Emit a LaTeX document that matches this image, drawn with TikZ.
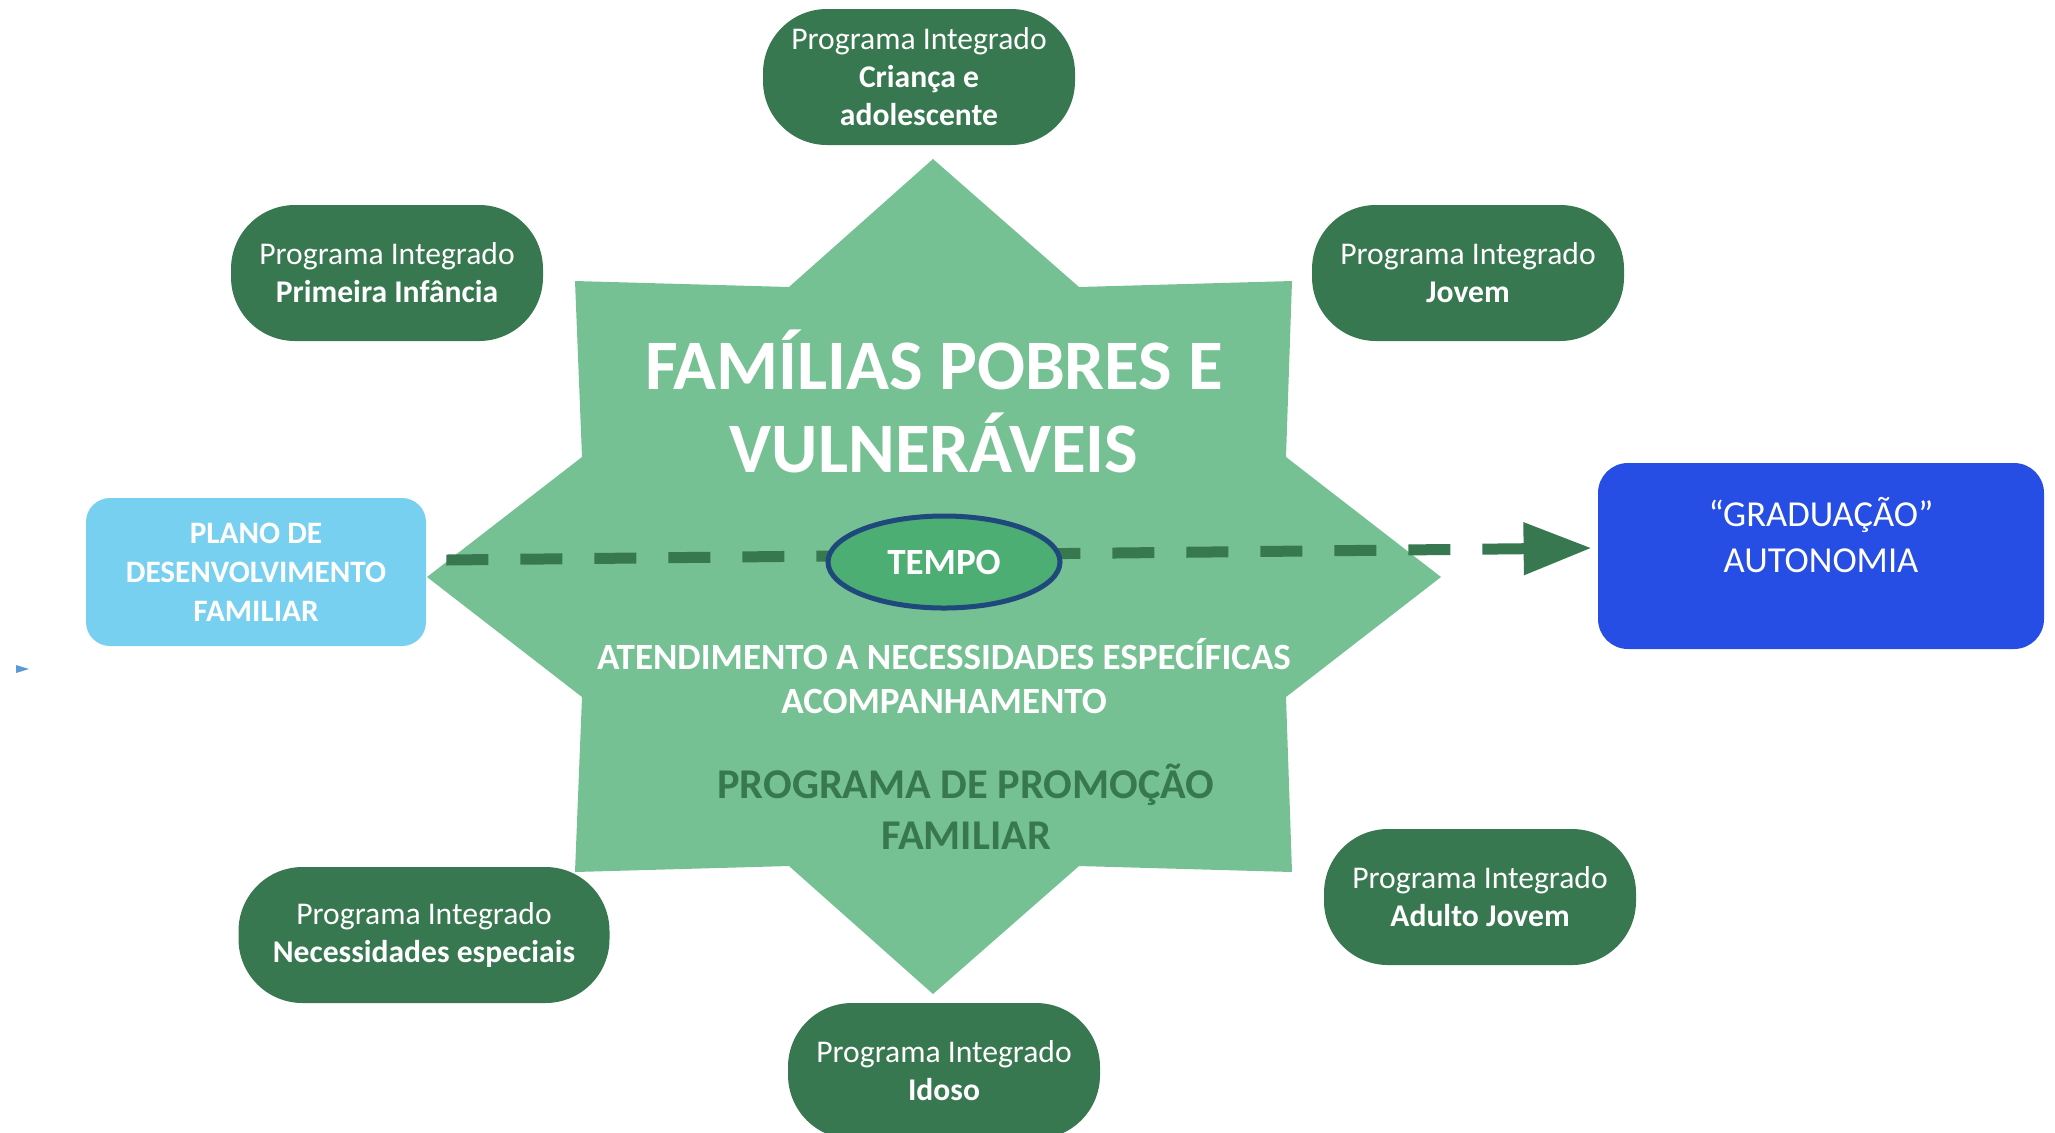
\documentclass[tikz,border=0pt]{standalone}
\usepackage{fontspec}
\setmainfont{Carlito}
\usetikzlibrary{arrows.meta,shapes,positioning}

\definecolor{stargreen}{RGB}{118,193,148}
\definecolor{pillgreen}{RGB}{56,120,80}
\definecolor{planoblue}{RGB}{120,208,240}
\definecolor{gradblue}{RGB}{38,77,228}
\definecolor{tempogreen}{RGB}{76,174,114}
\definecolor{temponavy}{RGB}{31,73,125}
\definecolor{tipblue}{RGB}{91,155,213}

\tikzset{
	pill/.style={rectangle,
		fill=pillgreen,
		rounded corners=32pt,
		minimum width=156pt,
		minimum height=68pt,
		inner sep=0pt,
		align=center,
		text=white,
		font=\fontsize{15.8}{19}\selectfont,
		},
	plano/.style={rectangle,
		fill=planoblue,
		rounded corners=12pt,
		minimum width=170pt,
		minimum height=74pt,
		inner sep=0pt,
		align=center,
		text=white,
		font=\fontsize{15.6}{19.5}\selectfont\bfseries,
		},
	grad/.style={rectangle,
		fill=gradblue,
		rounded corners=15pt,
		minimum width=223pt,
		minimum height=93pt,
		inner sep=0pt,
		text depth=21pt,
		align=center,
		text=white,
		font=\fontsize{18.3}{23}\selectfont,
		},
	tempo/.style={ellipse,
		draw=temponavy,
		line width=2.5pt,
		fill=tempogreen,
		minimum width=116pt,
		minimum height=46pt,
		inner sep=0pt,
		text=white,
		font=\fontsize{18.5}{22}\selectfont\bfseries,
		},
	startext/.style={align=center,
		text=white,
		inner sep=0pt,
		font=\bfseries,
		},
	flow/.style={draw=pillgreen,
		line width=5.5pt,
		dash pattern=on 21pt off 16pt,
		-{Triangle[length=34pt,width=25pt]},
		},
}

\begin{document}
\begin{tikzpicture}[x=0.5pt,y=-0.5pt]
   \useasboundingbox (0,0) rectangle (2055,1132);

   \fill[stargreen] (933,159) -- (1079,287) -- (1292,281) -- (1286,457)
   	-- (1441,577) -- (1286,697) -- (1292,872) -- (1079,866) -- (933,994)
   	-- (789,866) -- (575,872) -- (582,697) -- (427,577) -- (582,457)
   	-- (575,281) -- (789,287) -- cycle;

   \fill[tipblue] (16,665) -- (29,669) -- (16,673) -- cycle;

   \node[pill] (crianca) at (919,77) {Programa Integrado\\\textbf{Criança e}\\\textbf{adolescente}};
   \node[pill] (primeira) at (387,273) {Programa Integrado\\\textbf{Primeira Infância}};
   \node[pill] (jovem) at (1468,273) {Programa Integrado\\\textbf{Jovem}};
   \node[pill, minimum width=185.5pt] (especiais) at (424,935) {Programa Integrado\\\textbf{Necessidades especiais}};
   \node[pill] (adulto) at (1480,897) {Programa Integrado\\\textbf{Adulto Jovem}};
   \node[pill] (idoso) at (944,1071) {Programa Integrado\\\textbf{Idoso}};

   \node[plano] (plano) at (256,572) {PLANO DE\\DESENVOLVIMENTO\\FAMILIAR};
   \node[grad] (graduacao) at (1821,556) {“GRADUAÇÃO”\\AUTONOMIA};

   \node[startext, font=\fontsize{35.5}{41.5}\selectfont\bfseries] (familias) at (934,401) {FAMÍLIAS POBRES E\\VULNERÁVEIS};
   \node[startext, font=\fontsize{18.5}{22}\selectfont\bfseries] (atend) at (944,676) {ATENDIMENTO A NECESSIDADES ESPECÍFICAS\\ACOMPANHAMENTO};
   \node[startext, text=pillgreen, font=\fontsize{21.2}{25.5}\selectfont\bfseries] (promocao) at (966,807) {PROGRAMA DE PROMOÇÃO\\FAMILIAR};

   \draw[flow] ([xshift=10pt,yshift=6pt]plano.east) -- ([xshift=-3pt,yshift=4pt]graduacao.west);

   \node[tempo] (tempo) at (944,562) {TEMPO};
\end{tikzpicture}
\end{document}
